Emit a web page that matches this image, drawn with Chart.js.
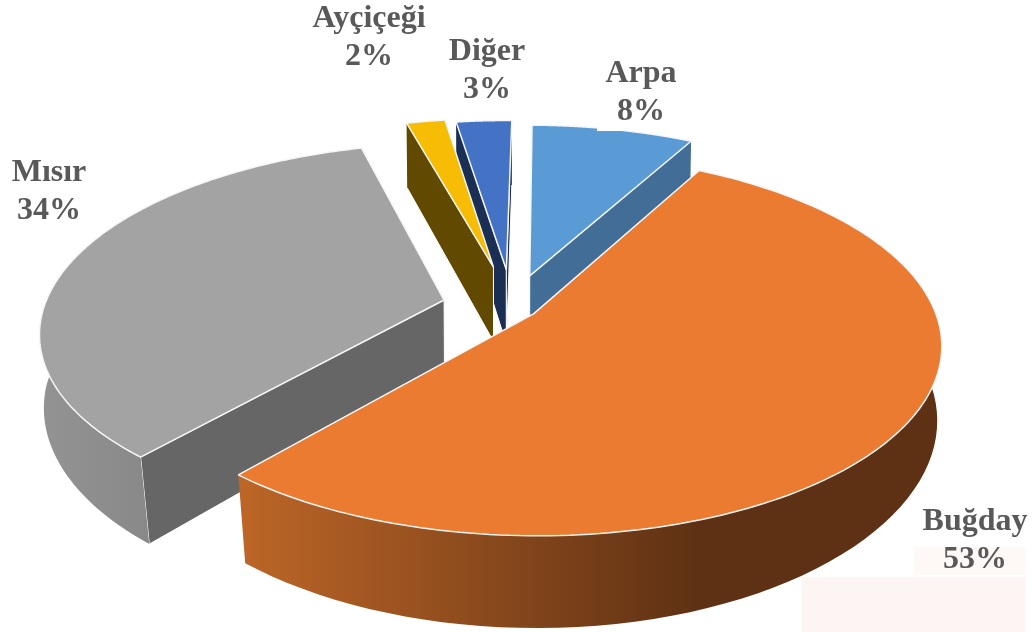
<!DOCTYPE html>
<html>
<head>
<meta charset="utf-8">
<title>Ekim alanları</title>
<script src="https://cdn.jsdelivr.net/npm/chart.js@4/dist/chart.umd.min.js"></script>
<style>
    html, body { margin: 0; padding: 0; background: #fff; }
    canvas { display: block; }
</style>
</head>
<body>
<canvas id="chart_pie" width="1032" height="632"></canvas>
<script>
var categories = ['Arpa', 'Buğday', 'Mısır', 'Ayçiçeği', 'Diğer'];
var shares = [7.7, 53.35, 34.45, 1.85, 2.65];

var topColors = ['#5b9bd5', '#ea7b30', '#a3a3a3', '#f7bc04', '#4472c4'];
var faceColors = ['#416d97', '#5f3114', '#666666', '#624900', '#1b2f55'];
var wallLeftColors = ['#416d97', '#bd6627', '#939393', '#624900', '#1b2f55'];
var wallRightColors = ['#416d97', '#5f3114', '#7f7f7f', '#624900', '#1b2f55'];
var explode = [0.18, 0.065, 0.175, 0.23, 0.21];

// hand placed, [x, first baseline]
var labelSpots = [[641, 82], [975, 530], [49, 181], [369, 27], [487, 60]];

// tilted camera: the disc sits in a plane, radius 1
var view = { cx: 512, cy: 307, a: 400, b: 184, p: 0.16, depth: 77 };

function toScreen(u, v) {
    var w = 1 - view.p * v;
    return { x: view.cx + view.a * u / w, y: view.cy + view.b * v / w, w: w, v: v };
}

function toFloor(pt) {
    var shrink = 0.994 - 0.024 * Math.max(pt.v, 0);
    return { x: view.cx + (pt.x - view.cx) * shrink, y: pt.y + view.depth / pt.w };
}

function midAngle(arc) {
    return (arc.startAngle + arc.endAngle) / 2;
}

function slicePoint(arc, index, x, y) {
    var mid = midAngle(arc);
    var u = (x - arc.x) / arc.outerRadius + explode[index] * Math.cos(mid);
    var v = (y - arc.y) / arc.outerRadius + explode[index] * Math.sin(mid);
    return toScreen(u, v);
}

function rimPoint(arc, index, angle) {
    return slicePoint(arc, index, arc.x + Math.cos(angle) * arc.outerRadius, arc.y + Math.sin(angle) * arc.outerRadius);
}

function tracePath(ctx, points) {
    ctx.beginPath();
    points.forEach(function (pt, i) {
        if (i === 0) {
            ctx.moveTo(pt.x, pt.y);
        } else {
            ctx.lineTo(pt.x, pt.y);
        }
    });
    ctx.closePath();
}

function signedArea(points) {
    var sum = 0;
    points.forEach(function (pt, i) {
        var next = points[(i + 1) % points.length];
        sum += pt.x * next.y - next.x * pt.y;
    });
    return sum;
}

function drawFaces(ctx, arc, index) {
    var apex = slicePoint(arc, index, arc.x, arc.y);
    [arc.startAngle, arc.endAngle].forEach(function (angle, which) {
        var rim = rimPoint(arc, index, angle);
        var quad = [apex, rim, toFloor(rim), toFloor(apex)];
        var area = signedArea(quad);
        // only the side turned towards the camera
        if ((which === 0 && area < 0) || (which === 1 && area > 0)) {
            tracePath(ctx, quad);
            ctx.fillStyle = faceColors[index];
            ctx.fill();
            ctx.strokeStyle = '#fff';
            ctx.lineWidth = 1;
            ctx.stroke();
        }
    });
}

function drawRimWall(ctx, arc, index) {
    var steps = 80;
    var upper = [];
    var i;
    for (i = 0; i <= steps; i++) {
        upper.push(rimPoint(arc, index, arc.startAngle + (arc.endAngle - arc.startAngle) * i / steps));
    }
    var lower = upper.map(toFloor).reverse();
    var xs = upper.map(function (pt) { return pt.x; });
    var fade = ctx.createLinearGradient(Math.min.apply(null, xs), 0, Math.max.apply(null, xs), 0);
    fade.addColorStop(0, wallLeftColors[index]);
    fade.addColorStop(0.65, wallRightColors[index]);
    fade.addColorStop(1, wallRightColors[index]);
    tracePath(ctx, upper.concat(lower));
    ctx.fillStyle = fade;
    ctx.fill();
}

// the arc draws itself, its path just goes through the camera on the way
function cameraContext(ctx, arc, index) {
    var overrides = {
        moveTo: function (x, y) {
            var pt = slicePoint(arc, index, x, y);
            ctx.moveTo(pt.x, pt.y);
        },
        lineTo: function (x, y) {
            var pt = slicePoint(arc, index, x, y);
            ctx.lineTo(pt.x, pt.y);
        },
        arc: function (x, y, r, from, to, ccw) {
            if (!r || isNaN(from) || isNaN(to)) {
                overrides.lineTo(x, y);
                return;
            }
            var steps = 80;
            var sweep = to - from;
            if (ccw && sweep > 0) sweep -= Math.PI * 2;
            for (var i = 0; i <= steps; i++) {
                var a = from + sweep * i / steps;
                overrides.lineTo(x + Math.cos(a) * r, y + Math.sin(a) * r);
            }
        }
    };
    return new Proxy(ctx, {
        get: function (target, key) {
            if (overrides[key]) return overrides[key];
            var value = target[key];
            return typeof value === 'function' ? value.bind(target) : value;
        },
        set: function (target, key, value) {
            target[key] = value;
            return true;
        }
    });
}

var tiltedPie = {
    id: 'tiltedPie',
    beforeDraw: function (chart) {
        var ctx = chart.ctx;
        // faint pink scan leftovers in the corner
        ctx.fillStyle = '#fdf5f4';
        ctx.fillRect(802, 577, 224, 55);
        ctx.fillStyle = '#fef8f7';
        ctx.fillRect(914, 547, 112, 28);
    },
    beforeDatasetsDraw: function (chart) {
        var ctx = chart.ctx;
        var arcs = chart.getDatasetMeta(0).data;
        var order = arcs.map(function (arc, i) { return i; }).sort(function (a, b) {
            return Math.sin(midAngle(arcs[a])) - Math.sin(midAngle(arcs[b]));
        });
        order.forEach(function (i) {
            drawFaces(ctx, arcs[i], i);
            drawRimWall(ctx, arcs[i], i);
            arcs[i].draw(cameraContext(ctx, arcs[i], i));
        });
        return false;
    },
    afterDraw: function (chart) {
        var ctx = chart.ctx;
        var total = shares.reduce(function (sum, v) { return sum + v; }, 0);
        // the Arpa label has a white box that nicks the slice
        ctx.fillStyle = '#fff';
        ctx.fillRect(597, 96, 88, 35);
        ctx.font = 'bold 32px "Liberation Serif", serif';
        ctx.fillStyle = '#595959';
        ctx.textAlign = 'center';
        ctx.textBaseline = 'alphabetic';
        categories.forEach(function (name, i) {
            ctx.fillText(name, labelSpots[i][0], labelSpots[i][1]);
            ctx.fillText(Math.round(shares[i] / total * 100) + '%', labelSpots[i][0], labelSpots[i][1] + 38);
        });
    }
};

new Chart(document.getElementById('chart_pie'), {
    type: 'pie',
    data: {
        labels: categories,
        datasets: [{
            data: shares,
            backgroundColor: topColors,
            borderColor: '#f4f6f8',
            borderWidth: 1.5
        }]
    },
    options: {
        responsive: false,
        animation: false,
        events: [],
        rotation: 0.8,
        plugins: {
            legend: { display: false },
            tooltip: { enabled: false }
        }
    },
    plugins: [tiltedPie]
});
</script>
</body>
</html>
